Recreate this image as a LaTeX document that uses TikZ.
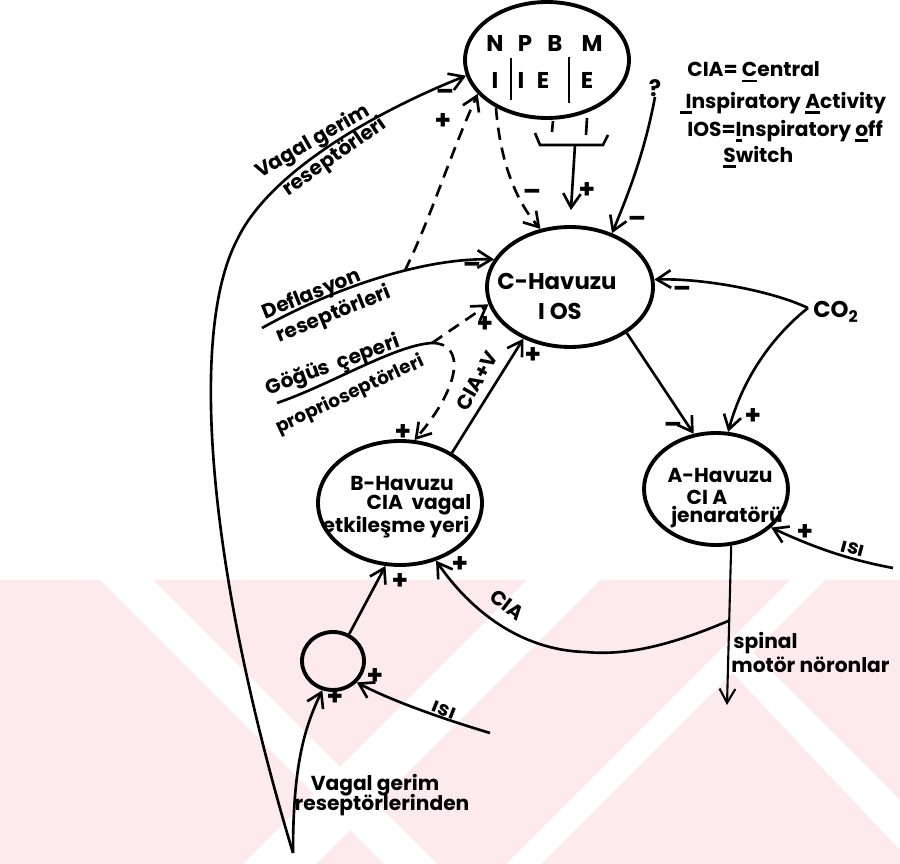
\documentclass[tikz,border=0pt]{standalone}
\usepackage{fontspec}
\setmainfont{Poppins}
\usetikzlibrary{arrows.meta,shapes.geometric,calc}
\definecolor{wm}{RGB}{252,234,238}
\newcommand\myul[1]{\setbox0\hbox{#1}\rlap{\raisebox{-3pt}{\rule{\wd0}{1.3pt}}}\box0}
\begin{document}
\begin{tikzpicture}[x=0.02cm,y=-0.02cm,
 ell/.style={draw,ellipse,line width=2.2pt,inner sep=0pt},
 con/.style={line width=1.5pt},
 arr/.style={con,-{Straight Barb[length=8pt,width=10pt]}},
 dsh/.style={dash pattern=on 7pt off 4.5pt},
 lab/.style={inner sep=0pt,font=\bfseries\fontsize{11.5}{13}\selectfont},
 sml/.style={inner sep=0pt,font=\bfseries\fontsize{10.5}{12}\selectfont},
 big/.style={inner sep=0pt,font=\bfseries\fontsize{13}{15}\selectfont},
 sgn/.style={inner sep=0pt,font=\bfseries\fontsize{15}{15}\selectfont},
]
\useasboundingbox (0,0) rectangle (900,864);
\fill[white] (0,0) rectangle (900,864);
% watermark
\fill[wm] (0,580) rectangle (900,864);
\fill[white] (100,580) -- (153,580) -- (437,864) -- (384,864) -- cycle;
\fill[white] (527,580) -- (600,580) -- (316,864) -- (243,864) -- cycle;
\fill[white] (790,580) -- (825,580) -- (541,864) -- (506,864) -- cycle;
\fill[white] (727,667) -- (750,650) -- (900,800) -- (900,850) -- cycle;

% nodes
\node[ell,minimum width=3.28cm,minimum height=2.32cm] (npbm) at (547,60) {};
\node[ell,minimum width=3.32cm,minimum height=2.4cm] (cpool) at (570,287) {};
\node[ell,minimum width=3.28cm,minimum height=2.48cm] (bpool) at (400,503) {};
\node[ell,minimum width=2.88cm,minimum height=2.24cm] (apool) at (716,489) {};
\node[ell,minimum width=1.24cm,minimum height=1.16cm] (small) at (333,661) {};

% NPBM contents
\node[big] (tN) at (495,43) {N};
\node[big] (tP) at (525,43) {P};
\node[big] (tB) at (555,43) {B};
\node[big] (tM) at (592,43) {M};
\node[big] (tI1) at (495,80) {I};
\node[big] (tI2) at (521,80) {I};
\node[big] (tE1) at (543,80) {E};
\node[big] (tE2) at (587,80) {E};
\draw[con] (511,58) -- (511,100);
\draw[con] (569,57) -- (569,103);

% ellipse texts
\node[big] (tc1) at (557,281) {C-Havuzu};
\node[big] (tc2) at (560,311) {I OS};
\node[lab] (tb1) at (402,483) {B-Havuzu};
\node[lab] (tb2) at (419,505) {CIA\ \ vagal};
\node[lab] (tb3) at (396,527) {etkileşme yeri};
\node[lab] (ta1) at (720,475) {A-Havuzu};
\node[lab] (ta2) at (707,497) {CI A};
\node[lab] (ta3) at (727,517) {jenaratörü};

% legend
\node[lab,anchor=west] (d1) at (687,72) {CIA= \myul{C}entral};
\node[lab,anchor=west] (d2) at (680,103) {\myul{\hspace{3pt}I}nspiratory \myul{A}ctivity};
\node[lab,anchor=west] (d3) at (687,131) {IOS=\myul{I}nspiratory \myul{o}ff};
\node[lab,anchor=west] (d4) at (723,157) {\myul{S}witch};

% connectors
\coordinate (vbase) at (293,853);
\draw[arr] (vbase) .. controls (205,560) and (190,330) .. (237,240) .. controls (270,170) and (380,110) .. (npbm.191);
\draw[arr] (vbase) .. controls (293,770) and (303,730) .. (small.250);
\draw[arr] (small.59) -- (bpool.257);
\coordinate (isi1) at (490,733);
\draw[arr] (isi1) .. controls (440,718) and (390,700) .. (small.318);

\coordinate (spEnd) at (727,705);
\draw[line width=1.2pt,-{Straight Barb[length=8pt,width=9pt]}] (apool.285) -- (spEnd);
\coordinate (sp1) at ($(apool.285)!0.47!(spEnd)$);
\draw[arr] (sp1) .. controls (660,650) and (620,655) .. (585,652) .. controls (520,650) and (470,610) .. (bpool.302);

\coordinate (isi2) at (893,568);
\draw[arr] (isi2) .. controls (850,560) and (815,548) .. (apool.325);
\draw[arr] (cpool.321) -- (apool.112);

\coordinate (co) at (808,308);
\draw[arr] (co) .. controls (770,290) and (700,278) .. (cpool.5);
\draw[arr] (co) .. controls (780,330) and (745,370) .. (apool.78);

\node[big] (q) at (655,88) {?};
\draw[arr] (q.south) .. controls (645,150) and (630,190) .. (cpool.52);

\draw[con] (553,121) -- (552,132);
\draw[con] (587,118) -- (586,135);
\draw[con] (535,133) -- (540,145) -- (603,145) -- (608,135);
\coordinate (brk) at (575,145);
\draw[arr,shorten >=0.3cm] (brk) -- (cpool.90);

\draw[arr,dsh] (npbm.223) .. controls (500,160) and (515,200) .. (cpool.117);

\coordinate (defl) at (262,328);
\draw[arr] (defl) .. controls (330,290) and (420,258) .. coordinate[pos=0.62] (dj) (cpool.160);
\draw[arr,dsh] (dj) .. controls (430,220) and (448,160) .. (npbm.206);

\coordinate (gg) at (277,403);
\coordinate (gj) at (432,343);
\draw[con] (gg) .. controls (330,385) and (395,345) .. (gj);
\draw[arr,dsh] (gj) -- (cpool.192);
\draw[arr,dsh] (gj) .. controls (465,343) and (462,385) .. (bpool.77);

\draw[arr] (bpool.44) -- (cpool.228);

% rotated labels
\node[lab,rotate=30] (v1) at (313,142) {Vagal gerim};
\node[lab,rotate=35] (v2) at (335,157) {reseptörleri};
\node[lab,rotate=22] (df1) at (312,295) {Deflasyon};
\node[lab,rotate=22] (df2) at (334,315) {reseptörleri};
\node[lab,rotate=20] (g1) at (333,366) {Göğüs\ \ çeperi};
\node[sml,rotate=25] (g2) at (350,395) {proprioseptörleri};
\node[lab,rotate=60] (cv) at (477,381) {CIA+V};
\node[lab,rotate=-38] (cia) at (507,605) {CIA};
\node[lab,rotate=-22] (isiS) at (444,710) {ısı};
\node[lab,rotate=-15] (isiA) at (853,549) {ısı};
\node[lab,anchor=west] (sp) at (733,643) {spinal};
\node[lab,anchor=west] (mn) at (731,665) {motör nöronlar};
\node[lab] (vg1) at (375,785) {Vagal gerim};
\node[lab] (vg2) at (382,805) {reseptörlerinden};
\node[big] (co2) at (836,312) {CO\textsubscript{2}};

% signs
\node[sgn] (s1) at (445,95) {–};
\node[sgn] (s2) at (443,122) {+};
\node[sgn] (s3) at (532,195) {–};
\node[sgn] (s4) at (587,191) {+};
\node[sgn] (s5) at (637,222) {–};
\node[sgn] (s6) at (472,268) {–};
\node[sgn] (s7) at (485,325) {+};
\node[sgn] (s8) at (533,356) {+};
\node[sgn] (s9) at (682,292) {–};
\node[sgn] (s10) at (673,428) {–};
\node[sgn] (s11) at (753,417) {+};
\node[sgn] (s12) at (403,433) {+};
\node[sgn] (s13) at (805,533) {+};
\node[sgn] (s14) at (460,565) {+};
\node[sgn] (s15) at (400,582) {+};
\node[sgn] (s16) at (375,677) {+};
\node[sgn] (s17) at (335,698) {+};
\end{tikzpicture}
\end{document}
